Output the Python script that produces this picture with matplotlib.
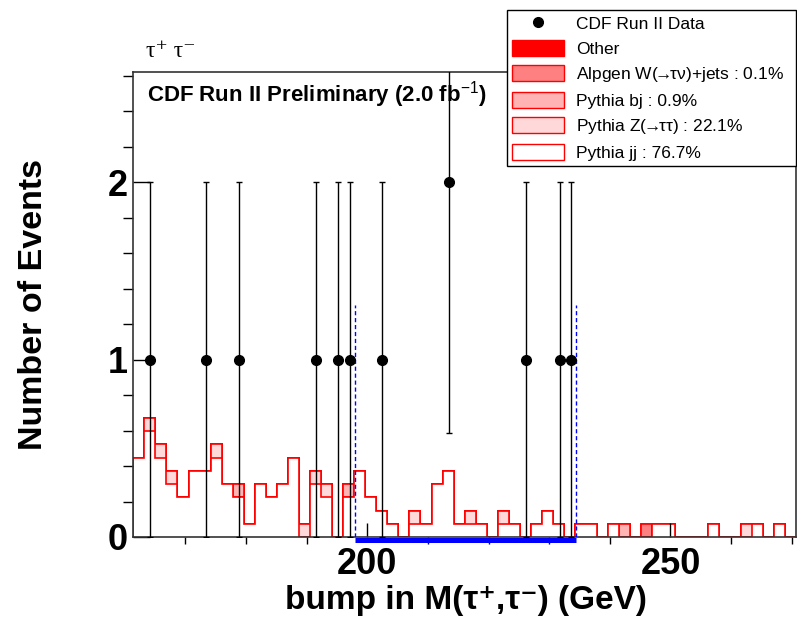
import numpy as np
import matplotlib
matplotlib.use('Agg')
import matplotlib.pyplot as plt
from matplotlib.patches import Patch
from matplotlib.lines import Line2D
from matplotlib.ticker import MultipleLocator

plt.rcParams['font.family'] = ['Liberation Sans', 'DejaVu Sans']
plt.rcParams['mathtext.fontset'] = 'custom'
plt.rcParams['mathtext.rm'] = 'Liberation Sans'
plt.rcParams['mathtext.bf'] = 'Liberation Sans:bold'

# histogram binning (60 bins)
x_lo, x_hi, n_bins = 161.4, 270.7, 60
unit = 0.0745  # weight of one MC entry

# MC entries per bin
jj = [6, 8, 6, 4, 3, 5, 5, 6, 4, 3, 1, 4, 3, 4, 6, 0, 4, 3, 0, 3,
      5, 3, 2, 1, 0, 1, 1, 4, 5, 1, 1, 1, 0, 1, 1, 0, 1, 2, 1, 0,
      1, 1, 0, 1, 0, 0, 0, 1, 1, 0, 0, 0, 1, 0, 0, 0, 1, 0, 1, 0]
ztt = [0, 1, 1, 1, 0, 0, 0, 1, 0, 0, 0, 0, 0, 0, 0, 1, 1, 1, 0, 0,
       0, 0, 0, 0, 0, 1, 0, 0, 0, 0, 1, 0, 0, 1, 0, 0, 0, 0, 0, 0,
       0, 0, 0, 0, 0, 0, 0, 0, 0, 0, 0, 0, 0, 0, 0, 1, 0, 0, 0, 0]
bj = [0, 0, 0, 0, 0, 0, 0, 0, 0, 1, 0, 0, 0, 0, 0, 0, 0, 0, 0, 1,
      0, 0, 0, 0, 0, 0, 0, 0, 0, 0, 0, 0, 0, 0, 0, 0, 0, 0, 0, 0,
      0, 0, 0, 0, 1, 0, 0, 0, 0, 0, 0, 0, 0, 0, 0, 0, 0, 0, 0, 0]
wjets = [0] * 46 + [1] + [0] * 13
other = [0] * 60

# data events
data_x = [164.2, 173.4, 178.8, 191.6, 195.2, 197.1, 202.5, 213.4, 226.2, 231.8, 233.6]
data_n = [1, 1, 1, 1, 1, 1, 1, 2, 1, 1, 1]

# search window
win_lo, win_hi = 198.0, 234.4
win_height = 1.31

labels = ['CDF Run II Data', 'Other', r'Alpgen W($\!\!\rightarrow\!\!$τν)+jets : 0.1%',
          'Pythia bj : 0.9%', r'Pythia Z($\!\!\rightarrow\!\!$ττ) : 22.1%', 'Pythia jj : 76.7%']
colors = ['#ff0000', '#ff8080', '#ffb3b3', '#ffd9d9', '#ffffff']

edges = np.linspace(x_lo, x_hi, n_bins + 1)

fig = plt.figure(figsize=(7.97, 6.18), dpi=100)
W, H = 797, 618
ax = fig.add_axes([133.3 / W, 1 - 537 / H, (796 - 133.3) / W, (537 - 72) / H])

# stacked histogram: jj at bottom, then Z, bj, W, other
layers = [jj, ztt, bj, wjets, other]
cum = np.cumsum(np.array(layers, dtype=float), axis=0) * unit
for i in range(len(layers) - 1, -1, -1):
    ax.stairs(cum[i], edges, baseline=0, fill=True, facecolor=colors[::-1][i],
              edgecolor='none')
    ax.stairs(cum[i], edges, baseline=0, fill=False, color='#ff0000', lw=1.2)

# data points
ax.errorbar(data_x, data_n, yerr=np.sqrt(data_n), fmt='o', color='black', ms=7,
            elinewidth=1, capsize=2, capthick=1, zorder=5)

# search window
ax.vlines([win_lo, win_hi], 0, win_height, colors='blue', linestyles=(0, (3, 2)), lw=1, zorder=4)
ax.hlines(-0.017, win_lo, win_hi, colors='blue', lw=3.6, clip_on=False, zorder=6)

ax.set_xlim(x_lo, x_hi)
ax.set_ylim(0, 2.62)
ax.xaxis.set_major_locator(MultipleLocator(50))
ax.xaxis.set_minor_locator(MultipleLocator(10))
ax.yaxis.set_major_locator(MultipleLocator(1))
ax.yaxis.set_minor_locator(MultipleLocator(0.2))
ax.tick_params(direction='in', top=False, right=False, labelsize=26)
ax.tick_params(axis='x', which='major', length=10, width=1, pad=7)
ax.tick_params(axis='x', which='minor', length=5, width=1)
ax.tick_params(axis='y', which='major', length=12, width=1, pad=4)
ax.tick_params(axis='y', which='minor', length=7, width=1)
for lab in ax.get_xticklabels() + ax.get_yticklabels():
    lab.set_fontweight('bold')
for s in ax.spines.values():
    s.set_color('#333333')
    s.set_linewidth(1.2)

ax.set_xlabel('bump in M(τ⁺,τ⁻) (GeV)', fontsize=24, fontweight='bold')
ax.set_ylabel('Number of Events', fontsize=24.5, fontweight='bold')
ax.xaxis.set_label_coords(0.502, -0.103)
ax.yaxis.set_label_coords(-0.127, 0.5)

ax.text(147 / W, 1 - 102 / H, r'CDF Run II Preliminary (2.0 fb$^{-1}$)', transform=fig.transFigure,
        fontsize=16, fontweight='bold', va='baseline', ha='left', zorder=1)
fig.text(146 / W, 1 - 57 / H, 'τ⁺ τ⁻', fontsize=17, va='baseline', ha='left',
         family=['Liberation Serif', 'DejaVu Serif'])

handles = [Line2D([], [], marker='o', ls='none', color='black', ms=7)]
handles += [Patch(facecolor=c, edgecolor='#ff0000', lw=1) for c in colors]
leg = fig.legend(handles, labels, loc='upper left',
                 bbox_to_anchor=(506.7 / W, 1 - 164 / H, 289 / W, 154 / H), mode='expand',
                 fontsize=12.5, handlelength=3.0, handleheight=1.05, handletextpad=0.7,
                 labelspacing=0.46, borderpad=0.3, borderaxespad=0, fancybox=False,
                 framealpha=1, edgecolor='black')
leg.get_frame().set_linewidth(1)

fig.savefig('out.png', dpi=100)
